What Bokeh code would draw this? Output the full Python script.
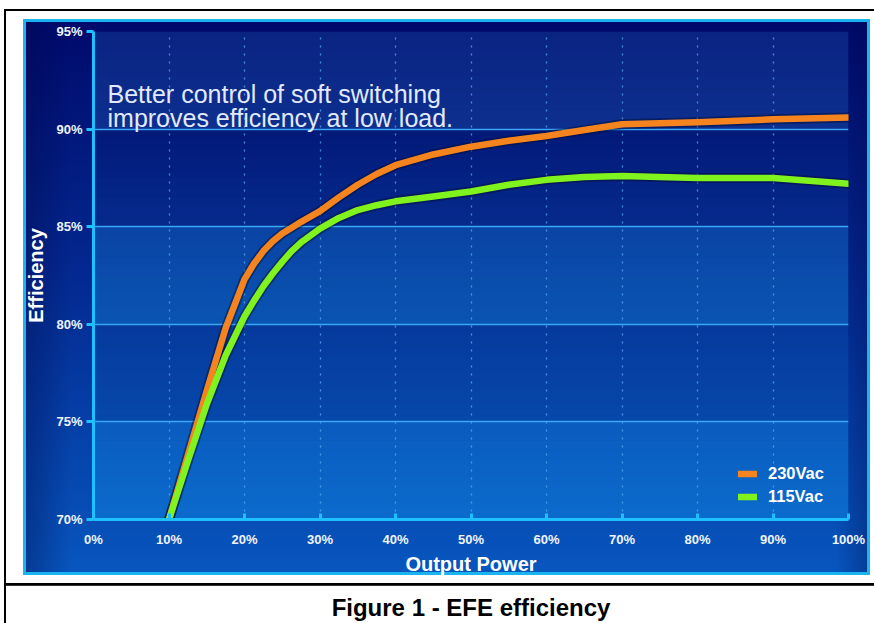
from bokeh.plotting import figure
from bokeh.models import (BoxAnnotation, Label, Legend, LegendItem, FixedTicker,
                          PrintfTickFormatter, LinearAxis)
from bokeh.embed import file_html
from bokeh.resources import INLINE

# ---------------- data ----------------
output_power = [10, 12.5, 15, 17.5, 20, 21.25, 22.5, 23.75, 25, 26.25, 27.5, 30, 32.5, 35,
                37.5, 40, 45, 50, 55, 60, 65, 70, 80, 90, 100]
eff_230vac = [70, 73.3, 76.6, 79.8, 82.3, 83.1, 83.75, 84.25, 84.65, 84.95, 85.25, 85.8, 86.5, 87.15,
              87.7, 88.15, 88.7, 89.1, 89.4, 89.65, 89.95, 90.25, 90.35, 90.5, 90.6]
eff_115vac = [70, 73.0, 75.9, 78.4, 80.4, 81.2, 81.95, 82.6, 83.2, 83.75, 84.2, 84.9, 85.45, 85.85,
              86.1, 86.3, 86.55, 86.8, 87.15, 87.4, 87.55, 87.6, 87.5, 87.5, 87.2]
series_names = ["230Vac", "115Vac"]
x_ticks = [0, 10, 20, 30, 40, 50, 60, 70, 80, 90, 100]
y_ticks = [70, 75, 80, 85, 90, 95]
note_lines = ["Better control of soft switching", "improves efficiency at low load."]
caption = "Figure 1 - EFE efficiency"

W, H = 874, 623
FONT = "Liberation Sans"


def hx(c):
    c = c.lstrip("#")
    return [int(c[i:i + 2], 16) for i in (0, 2, 4)]


def lerp(c1, c2, t):
    a, b = hx(c1), hx(c2)
    return "#%02x%02x%02x" % tuple(int(round(a[i] + (b[i] - a[i]) * t)) for i in range(3))


p = figure(width=W, height=H, x_range=(0, 100), y_range=(70, 95),
           output_backend="svg", toolbar_location=None,
           min_border_left=93, min_border_right=26, min_border_top=31, min_border_bottom=104)
p.border_fill_color = None
p.background_fill_color = None
p.outline_line_color = None

# page decorations + blue panel painted behind the (transparent) canvas
layers = [
    ("linear-gradient(#000,#000)", "4px 8.5px", "870px 2.2px"),        # top rule
    ("linear-gradient(#000,#000)", "3.5px 8.5px", "2px 615px"),        # left rule
    ("linear-gradient(#000,#000)", "4px 582.7px", "870px 2.8px"),      # caption separator
    ("linear-gradient(90deg, rgba(0,6,70,0.35) 0px, rgba(0,6,70,0) 45px, rgba(0,6,70,0) 810px, rgba(0,6,70,0.3) 841px)",
     "26px 22px", "841px 550px"),                                      # side darkening
    ("linear-gradient(180deg, #000a6c 0%, #03288f 45%, #0756be 100%)", "26px 22px", "841px 550px"),
    ("linear-gradient(#1ab4f0,#1ab4f0)", "23px 19px", "847px 556px"),  # cyan panel border
]
p.styles = {
    "background-color": "white",
    "background-image": ", ".join(l[0] for l in layers),
    "background-position": ", ".join(l[1] for l in layers),
    "background-size": ", ".join(l[2] for l in layers),
    "background-repeat": "no-repeat",
}

# frame bands (alternating light / dark between gridlines)
band_cols = [("#0a2482", "#0d2f8e"), ("#021a7a", "#052a8c"), ("#0a44a4", "#0a54b2"),
             ("#053a9c", "#0648aa"), ("#0a5cbe", "#0b6bcc")]
sub = 16
for k, (ctop, cbot) in enumerate(band_cols):
    ytop = 95 - 5 * k
    for j in range(sub):
        y1 = ytop - 5 * j / sub
        y0 = ytop - 5 * (j + 1) / sub
        p.add_layout(BoxAnnotation(top=y1, bottom=y0 - 0.03,
                                   fill_color=lerp(ctop, cbot, j / (sub - 1)), fill_alpha=1,
                                   line_color=None, level="image"))

# ---------- grids ----------
p.ygrid.ticker = FixedTicker(ticks=y_ticks)
p.ygrid.grid_line_color = "#3aa6f5"
p.ygrid.grid_line_width = 1.5
p.xgrid.ticker = FixedTicker(ticks=x_ticks)
p.xgrid.grid_line_color = "#5aa8f0"
p.xgrid.grid_line_alpha = 0.8
p.xgrid.grid_line_width = 1.3
p.xgrid.grid_line_dash = "2 6"

# ---------- axes ----------
axis_col = "#1fc0ff"
for ax in (p.xaxis[0], p.yaxis[0]):
    ax.axis_line_color = axis_col
    ax.axis_line_width = 3
    ax.major_tick_line_color = axis_col
    ax.major_tick_line_width = 3
    ax.minor_tick_line_color = None
    ax.major_label_text_color = "#f0f4ff"
    ax.major_label_text_font = FONT
    ax.major_label_text_font_style = "bold"
    ax.major_label_text_font_size = "13px"
    ax.axis_label_text_color = "white"
    ax.axis_label_text_font = FONT
    ax.axis_label_text_font_style = "bold"
    ax.axis_label_text_font_size = "20px"
    ax.formatter = PrintfTickFormatter(format="%d%%")

p.xaxis.ticker = FixedTicker(ticks=x_ticks)
p.xaxis.major_tick_in = 6
p.xaxis.major_tick_out = 0
p.xaxis.major_label_standoff = 12
p.xaxis.axis_label = "Output Power"
p.xaxis.axis_label_standoff = 3

p.yaxis.ticker = FixedTicker(ticks=y_ticks)
p.yaxis.major_tick_in = 0
p.yaxis.major_tick_out = 7
p.yaxis.major_label_standoff = 4
p.yaxis.axis_label = "Efficiency"
p.yaxis.axis_label_standoff = 6

# caption: a tick-less axis below the x axis, carrying only its label
cap_axis = LinearAxis(ticker=FixedTicker(ticks=[]), axis_label=caption,
                      axis_line_color=None, major_tick_line_color=None,
                      minor_tick_line_color=None, major_tick_in=0, major_tick_out=0,
                      minor_tick_in=0, minor_tick_out=0, major_label_standoff=0,
                      axis_label_standoff=16, axis_label_text_color="black",
                      axis_label_text_font=FONT, axis_label_text_font_style="bold",
                      axis_label_text_font_size="24px")
p.add_layout(cap_axis, "below")

# ---------- curves ----------
for ys in (eff_230vac, eff_115vac):
    p.line(output_power, ys, line_color="#000a30", line_alpha=0.45, line_width=10,
           line_cap="round", line_join="round")
r1 = p.line(output_power, eff_230vac, line_color="#f5841f", line_width=6.5,
            line_cap="round", line_join="round")
r2 = p.line(output_power, eff_115vac, line_color="#80f21e", line_width=6.5,
            line_cap="round", line_join="round")

legend = Legend(items=[LegendItem(label=series_names[0], renderers=[r1]),
                       LegendItem(label=series_names[1], renderers=[r2])],
                location=(645, 11.5), background_fill_alpha=0, border_line_color=None,
                padding=0, margin=0, spacing=0, label_height=23, glyph_height=23,
                glyph_width=19, label_standoff=11, label_text_color="white",
                label_text_font=FONT, label_text_font_style="bold",
                label_text_font_size="16.5px")
p.add_layout(legend)

# ---------- texts ----------
for i, line in enumerate(note_lines):
    p.add_layout(Label(x=107, y=93.5 + 23.5 * i, x_units="canvas", y_units="canvas",
                       text=line, text_align="left", text_baseline="alphabetic",
                       text_color="#e2eaff", text_font=FONT, text_font_size="25px"))

open("out.html", "w").write(file_html(p, INLINE))
